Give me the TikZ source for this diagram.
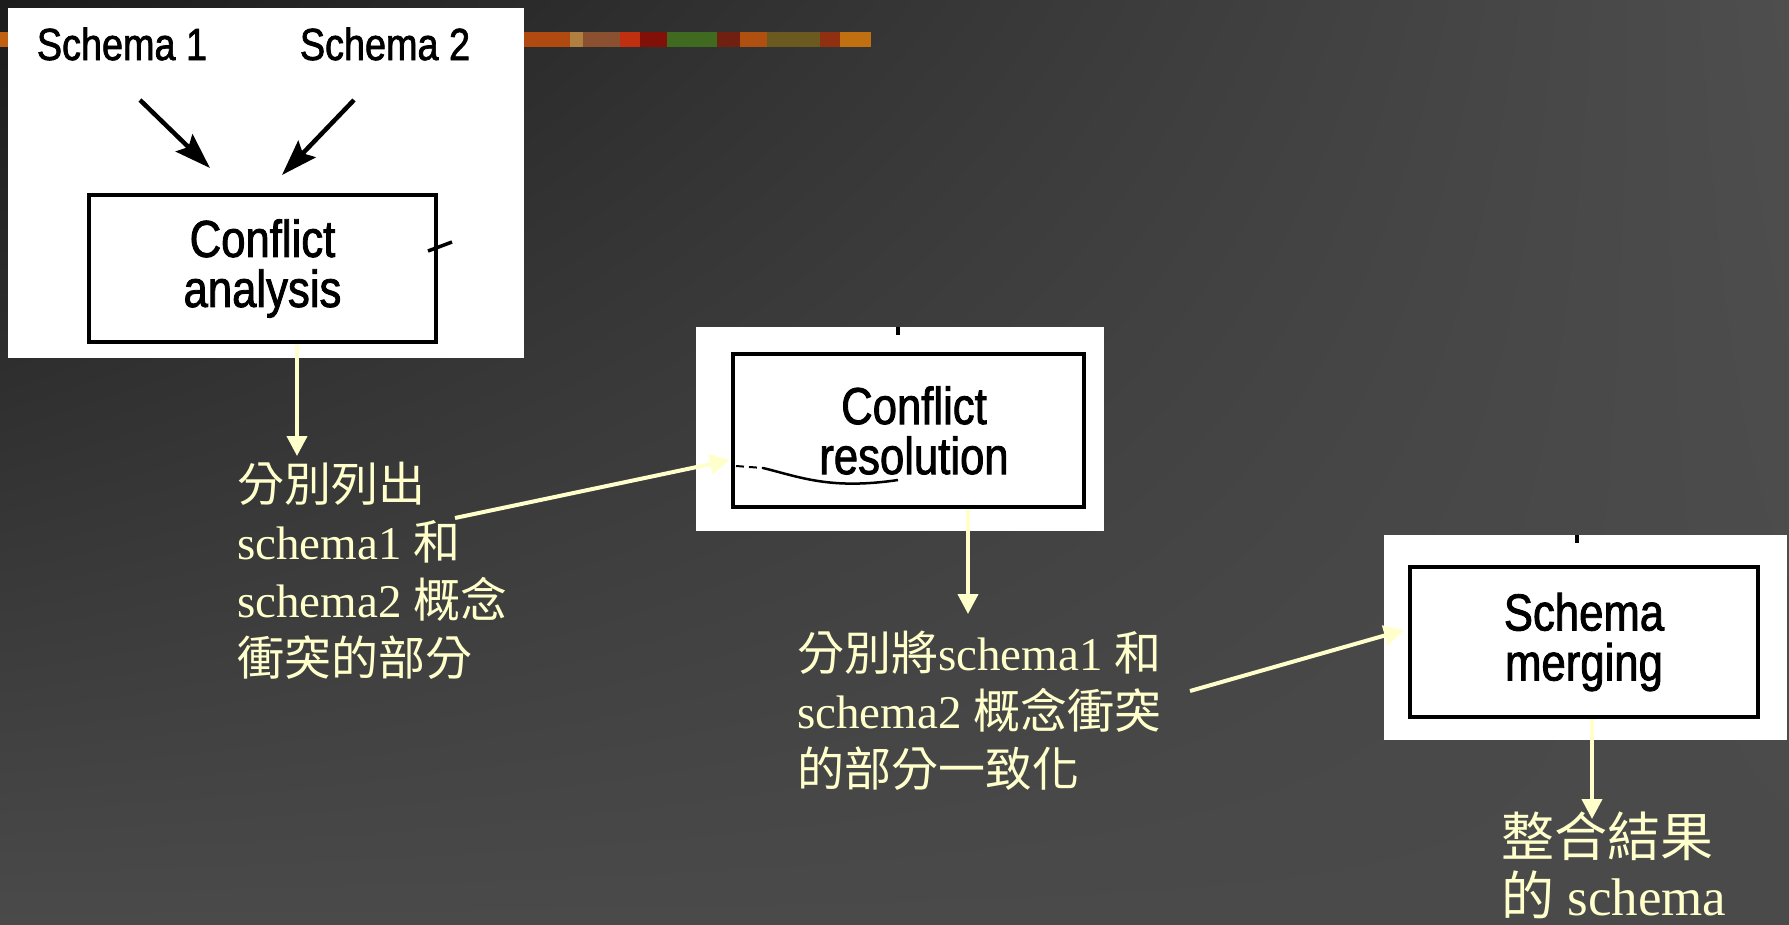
\documentclass[tikz,border=0pt]{standalone}
\usepackage{fontspec}
\setmainfont{Liberation Serif}
\newfontfamily\cjk{Noto Sans CJK TC}
\newfontfamily\arialf{Liberation Sans}[FakeStretch=0.84,FakeBold=1.6]
\usetikzlibrary{arrows.meta,shadings}
\definecolor{ylw}{HTML}{FFFFCC}
\definecolor{bgUL}{HTML}{1C1C1C}
\definecolor{bgUR}{HTML}{4E4E4E}
\definecolor{bgLL}{HTML}{4A4A4A}
\definecolor{bgLR}{HTML}{4A4A4A}
\tikzset{
  box/.style={draw=black, line width=4.5pt, fill=white, align=center, inner sep=0pt,
    font=\arialf\fontsize{52}{50}\selectfont},
  panel/.style={fill=white, draw=none},
  lbl/.style={text=ylw, anchor=base west, inner sep=0pt, font=\fontsize{47}{57}\selectfont},
  slbl/.style={text=black, anchor=base, inner sep=0pt, font=\arialf\fontsize{45}{44}\selectfont},
  yarrow/.style={draw=ylw, line width=4pt, -{Triangle[length=20pt,width=20pt]}},
  barrow/.style={draw=black, line width=4.5pt, -{Stealth[length=36pt,width=24pt,inset=6pt]}},
}
\begin{document}
\begin{tikzpicture}[x=1pt,y=-1pt]
\useasboundingbox (0,0) rectangle (1789,924);
% background
\shade[upper left=bgUL, upper right=bgUR, lower left=bgLL, lower right=bgLR] (0,0) rectangle (1789,924);
% decorative stripe
\foreach \a/\b/\c in {0/40/C06010, 40/70/B04A10, 70/110/B08040, 524/570/B04A10, 570/583/B08040, 583/620/8A5030, 620/640/C03010, 640/667/801008, 667/717/406A20, 717/740/702010, 740/767/B05010, 767/820/6A5A20, 820/840/903010, 840/871/C07010}
  {\definecolor{sc}{HTML}{\c}\fill[sc] (\a,32) rectangle (\b,47);}
% white panels
\fill[panel] (8,8) rectangle (524,358);
\fill[panel] (696,327) rectangle (1104,531);
\fill[panel] (1384,535) rectangle (1787,740);
% panel 1
\node[slbl] (s1) at (122,60) {Schema 1};
\node[slbl] (s2) at (385,60) {Schema 2};
\node[box, minimum width=347pt, minimum height=147pt] (ca) at (262.5,268.5) {Conflict\\analysis};
\coordinate (s1s) at (140,100);
\coordinate (s1e) at (210,168);
\coordinate (s2s) at (354,100);
\coordinate (s2e) at (282,175);
\draw[barrow] (s1s) -- (s1e);
\draw[barrow] (s2s) -- (s2e);
\draw[line width=3.5pt] (428,251) -- (452,242);
% panel 2
\node[box, minimum width=351pt, minimum height=153pt] (cr) at (908.5,430.5) {\hspace*{11pt}Conflict\\\hspace*{11pt}resolution};
\draw[black, line width=2pt, dash pattern=on 8pt off 5pt] (736,466) -- (763,468);
\draw[black, line width=2.5pt] (763,468) .. controls (800,477) and (830,490) .. (898,480);
\draw[line width=4pt] (898,327) -- (898,335);
% panel 3
\node[box, minimum width=348pt, minimum height=150pt] (sm) at (1584,642) {Schema\\merging};
\draw[line width=4pt] (1577,535) -- (1577,543);
% text block 1
\node[lbl] (t1a) at (237,501) {\cjk 分別列出};
\node[lbl] (t1b) at (237,559) {schema1 {\cjk 和}};
\node[lbl] (t1c) at (237,617) {schema2 {\cjk 概念}};
\node[lbl] (t1d) at (237,675) {\cjk 衝突的部分};
% text block 2
\node[lbl] (t2a) at (797,670) {{\cjk 分別將}schema1 {\cjk 和}};
\node[lbl] (t2b) at (797,728) {schema2 {\cjk 概念衝突}};
\node[lbl] (t2c) at (797,786) {\cjk 的部分一致化};
% text block 3
\node[lbl, font=\fontsize{53}{60}\selectfont] (t3a) at (1501,856) {\cjk 整合結果};
\node[lbl, font=\fontsize{53}{60}\selectfont] (t3b) at (1501,915) {{\cjk 的} schema};
% yellow arrows
\coordinate (a1e) at (297,456);
\coordinate (a2s) at (455,518);
\coordinate (a2e) at (730,460);
\coordinate (a3e) at (968,614);
\coordinate (a4s) at (1190,691);
\coordinate (a4e) at (1404,630);
\coordinate (a5e) at (1592,819);
\draw[yarrow] (ca.south -| a1e) -- (a1e);
\draw[yarrow] (a2s) -- (a2e);
\draw[yarrow] (cr.south -| a3e) -- (a3e);
\draw[yarrow] (a4s) -- (a4e);
\draw[yarrow] (sm.south -| a5e) -- (a5e);
\end{tikzpicture}
\end{document}
